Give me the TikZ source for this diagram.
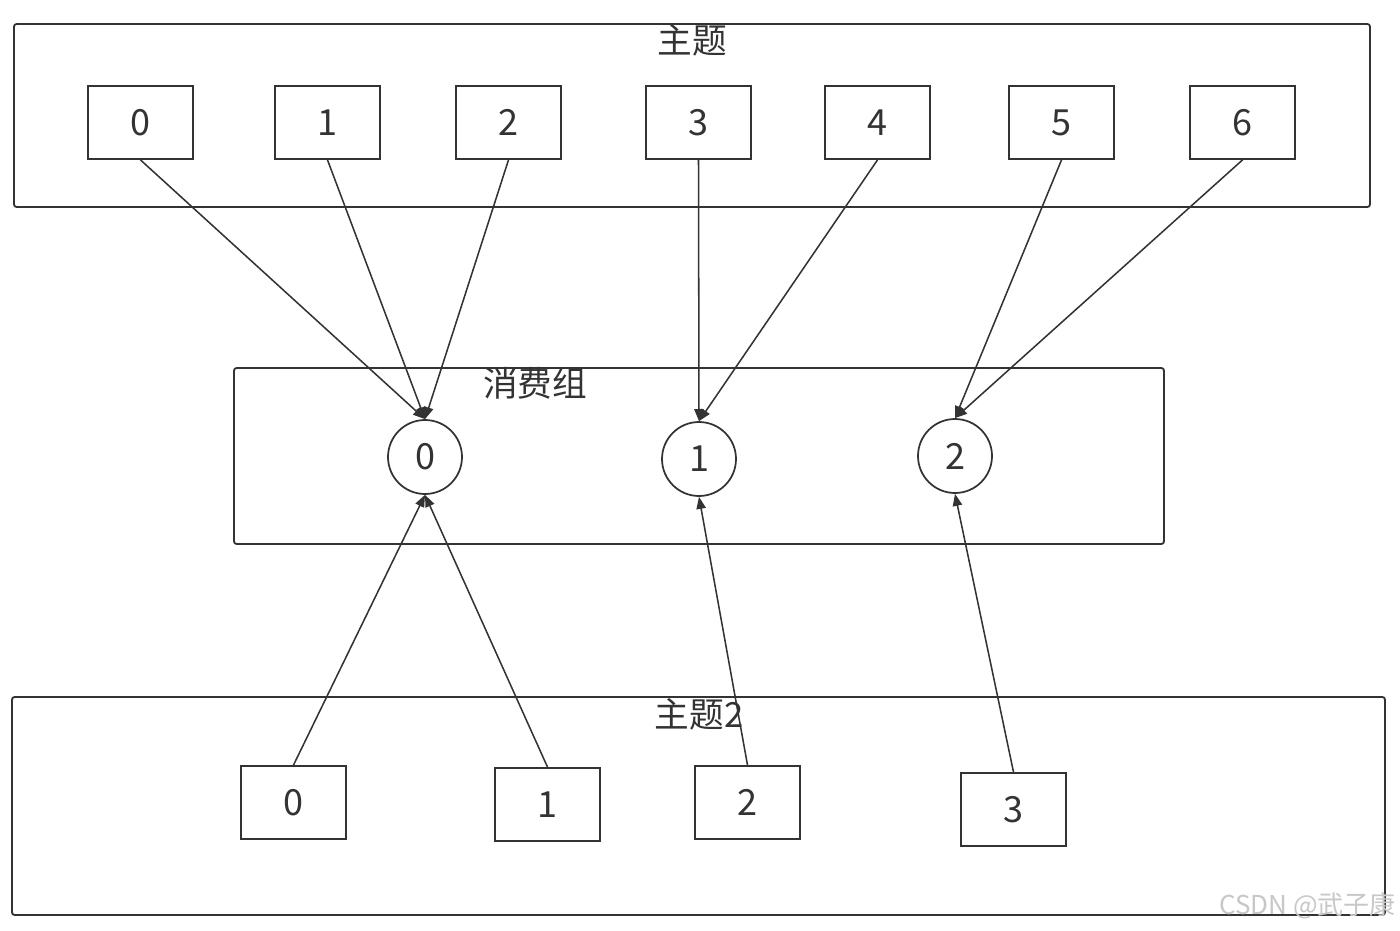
\documentclass[tikz,border=0pt]{standalone}
\usepackage{fontspec}
\newfontfamily\cjk{Noto Sans CJK SC}
\usetikzlibrary{arrows.meta}
\definecolor{ln}{HTML}{333333}
\tikzset{
  frame/.style={draw=ln,line width=1.4pt,rounded corners=2pt,inner sep=0pt},
  part/.style={draw=ln,line width=1.4pt,minimum width=78.75pt,minimum height=54.75pt,inner sep=0pt,font=\cjk\fontsize{27}{27}\selectfont,text=ln},
  cons/.style={draw=ln,line width=1.3pt,circle,minimum size=55.5pt,inner sep=0pt,font=\cjk\fontsize{27}{27}\selectfont,text=ln},
  ttl/.style={font=\cjk\fontsize{26}{26}\selectfont,text=ln,inner sep=0pt},
  arr/.style={draw=ln,line width=1.15pt,-{Triangle[length=9pt,width=7pt]}}
}
\begin{document}
\begin{tikzpicture}[x=0.75pt,y=-0.75pt]
\useasboundingbox (0,0) rectangle (1400,931);
\fill[white] (0,0) rectangle (1400,931);
% frames
\node[frame,minimum width=1017pt,minimum height=137.25pt] (top) at (692,115.5) {};
\node[frame,minimum width=697.5pt,minimum height=132pt] (mid) at (699,456) {};
\node[frame,minimum width=1029.75pt,minimum height=163.5pt] (bot) at (698.5,806) {};
\node[ttl] (ttop) at (692,40) {主题};
\node[ttl] (tmid) at (535,383) {消费组};
\node[ttl] (tbot) at (699,714) {主题2};
% top partitions
\node[part] (t0) at (140.5,122.5) {0};
\node[part] (t1) at (327.5,122.5) {1};
\node[part] (t2) at (508.5,122.5) {2};
\node[part] (t3) at (698.5,122.5) {3};
\node[part] (t4) at (877.5,122.5) {4};
\node[part] (t5) at (1061.5,122.5) {5};
\node[part] (t6) at (1242.5,122.5) {6};
% consumers
\node[cons] (c0) at (425,457) {0};
\node[cons] (c1) at (699,459) {1};
\node[cons] (c2) at (955,456) {2};
% bottom partitions
\node[part] (b0) at (293.5,802.5) {0};
\node[part] (b1) at (547.5,804.5) {1};
\node[part] (b2) at (747.5,802.5) {2};
\node[part] (b3) at (1013.5,809.5) {3};
% arrows
\draw[arr] (t0.south) -- (c0.north);
\draw[arr] (t1.south) -- (c0.north);
\draw[arr] (t2.south) -- (c0.north);
\draw[arr] (t3.south) -- (c1.north);
\draw[arr] (t4.south) -- (c1.north);
\draw[arr] (t5.south) -- (c2.north);
\draw[arr] (t6.south) -- (c2.north);
\draw[arr] (b0.north) -- (c0.south);
\draw[arr] (b1.north) -- (c0.south);
\draw[arr] (b2.north) -- (c1.south);
\draw[arr] (b3.north) -- (c2.south);
% watermark
\node[font=\cjk\fontsize{19.5}{19.5}\selectfont,text=black!22,anchor=east,inner sep=0pt] (wm) at (1396,906) {CSDN @武子康};
\end{tikzpicture}
\end{document}
